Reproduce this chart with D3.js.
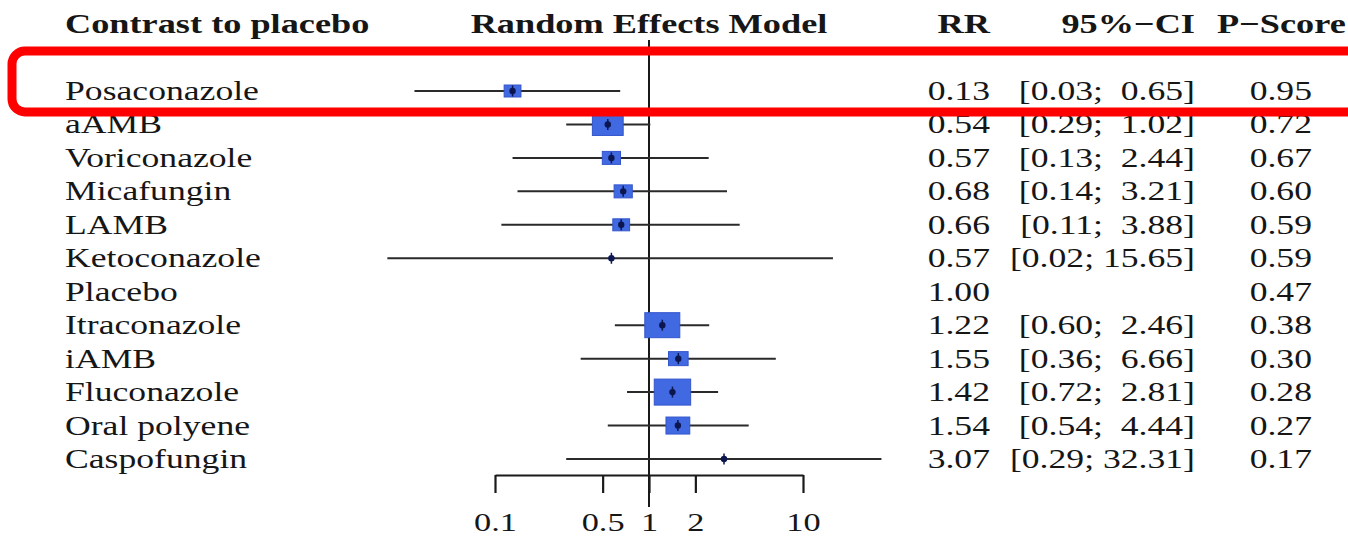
<!DOCTYPE html>
<html><head><meta charset="utf-8">
<script src="https://cdn.jsdelivr.net/npm/d3@7"></script>
<style>
body{margin:0;background:#fff}
svg{display:block}
text{font-family:"Liberation Serif","Times New Roman",serif;fill:#161616;white-space:pre}
</style>
</head><body><svg id="c" width="1348" height="537"></svg>
<script>
const treatments = ["Posaconazole","aAMB","Voriconazole","Micafungin","LAMB","Ketoconazole","Placebo","Itraconazole","iAMB","Fluconazole","Oral polyene","Caspofungin"];
const rr       = [0.13,0.54,0.57,0.68,0.66,0.57,1.00,1.22,1.55,1.42,1.54,3.07];
const ciLower  = [0.03,0.29,0.13,0.14,0.11,0.02,null,0.60,0.36,0.72,0.54,0.29];
const ciUpper  = [0.65,1.02,2.44,3.21,3.88,15.65,null,2.46,6.66,2.81,4.44,32.31];
const pScore   = [0.95,0.72,0.67,0.60,0.59,0.59,0.47,0.38,0.30,0.28,0.27,0.17];
const weights  = [12,22,13,13,12,3,null,25,14,26,17,3];
const tickValues = [0.1,0.5,1,2,10];
const headers = ["Contrast to placebo","Random Effects Model","RR","95%\u2212CI","P\u2212Score"];
const highlighted = "Posaconazole";

const rows = treatments.map((t,i)=>({name:t, rr:rr[i], lo:ciLower[i], hi:ciUpper[i], p:pScore[i], w:weights[i]}));

const svg = d3.select("#c");
const SX = 1.32;
const x = d3.scaleLog().domain([0.1,10]).range([495,803]);
const y = d3.scalePoint().domain(treatments).range([91,459]);
const boxH = d3.scaleLinear().domain([0,26]).range([0,26]);
const BOX_ASPECT = 1.4;

function stretchText(sel, px, py){
  sel.attr("transform", (d,i)=>`translate(${px(d,i)},${py(d,i)}) scale(${SX},1)`);
}

// headers
const hdr = [
  {t:headers[0], x:65, a:"start"},
  {t:headers[1], x:x(1), a:"middle"},
  {t:headers[2], x:990, a:"end"},
  {t:headers[3], x:1195, a:"end"},
  {t:headers[4], x:1217, a:"start"}
];
svg.append("g").selectAll("text").data(hdr).join("text")
  .attr("text-anchor",d=>d.a).attr("font-weight","bold").attr("font-size",27.5)
  .text(d=>d.t).call(stretchText, d=>d.x, ()=>33);

// reference line at 1
svg.append("line").attr("x1",x(1)).attr("x2",x(1)).attr("y1",40).attr("y2",507)
  .attr("stroke","#1a1a1a").attr("stroke-width",2);

// CI lines
const g = svg.append("g");
g.selectAll("line.ci").data(rows.filter(d=>d.lo!=null)).join("line").attr("class","ci")
  .attr("x1",d=>x(d.lo)).attr("x2",d=>x(d.hi)).attr("y1",d=>y(d.name)).attr("y2",d=>y(d.name))
  .attr("stroke","#2a2a2a").attr("stroke-width",2);

// boxes
g.selectAll("rect.box").data(rows.filter(d=>d.w!=null)).join("rect").attr("class","box")
  .attr("x",d=>x(d.rr)-boxH(d.w)*BOX_ASPECT/2).attr("y",d=>y(d.name)-boxH(d.w)/2)
  .attr("width",d=>boxH(d.w)*BOX_ASPECT).attr("height",d=>boxH(d.w))
  .attr("fill","#4169e1").attr("stroke","#3456cc").attr("stroke-width",1);

// point marks
g.selectAll("circle.pt").data(rows.filter(d=>d.lo!=null)).join("circle").attr("class","pt")
  .attr("cx",d=>x(d.rr)).attr("cy",d=>y(d.name)).attr("r",3.2).attr("fill","#0c1650");
g.selectAll("line.pt").data(rows.filter(d=>d.lo!=null)).join("line").attr("class","pt")
  .attr("x1",d=>x(d.rr)).attr("x2",d=>x(d.rr)).attr("y1",d=>y(d.name)-5.5).attr("y2",d=>y(d.name)+5.5)
  .attr("stroke","#0c1650").attr("stroke-width",1.5);

// row texts
const tg = svg.append("g").attr("font-size",27);
tg.selectAll("text.lab").data(rows).join("text").attr("class","lab")
  .attr("text-anchor","start").text(d=>d.name).call(stretchText, ()=>65, d=>y(d.name)+9);
tg.selectAll("text.rr").data(rows).join("text").attr("class","rr")
  .attr("text-anchor","end").text(d=>d.rr.toFixed(2)).call(stretchText, ()=>990, d=>y(d.name)+9);
tg.selectAll("text.ci").data(rows.filter(d=>d.lo!=null)).join("text").attr("class","ci")
  .attr("text-anchor","end")
  .text(d=>{const h=d.hi.toFixed(2); return "["+d.lo.toFixed(2)+"; "+(h.length<5?" ":"")+h+"]";})
  .call(stretchText, ()=>1195, d=>y(d.name)+9);
tg.selectAll("text.ps").data(rows).join("text").attr("class","ps")
  .attr("text-anchor","end").text(d=>d.p.toFixed(2)).call(stretchText, ()=>1312, d=>y(d.name)+9);

// axis
const axis = d3.axisBottom(x).tickValues(tickValues).tickFormat(d3.format("")).tickSize(18).tickSizeOuter(0);
const ag = svg.append("g").attr("transform","translate(0,475)").call(axis);
ag.select(".domain").attr("stroke","#1a1a1a").attr("stroke-width",2.2);
ag.selectAll(".tick line").attr("stroke","#1a1a1a").attr("stroke-width",2.2);
ag.selectAll(".tick text").attr("font-family",null).attr("font-size",26).attr("fill","#161616")
  .attr("y",0).attr("dy",null).attr("transform",`translate(0,56) scale(${SX},1)`);

// highlight annotation
const hy = y(highlighted);
svg.append("rect").attr("x",12).attr("y",hy-40).attr("width",1400).attr("height",61).attr("rx",13)
  .attr("fill","none").attr("stroke","#ff0000").attr("stroke-width",9);
</script></body></html>
